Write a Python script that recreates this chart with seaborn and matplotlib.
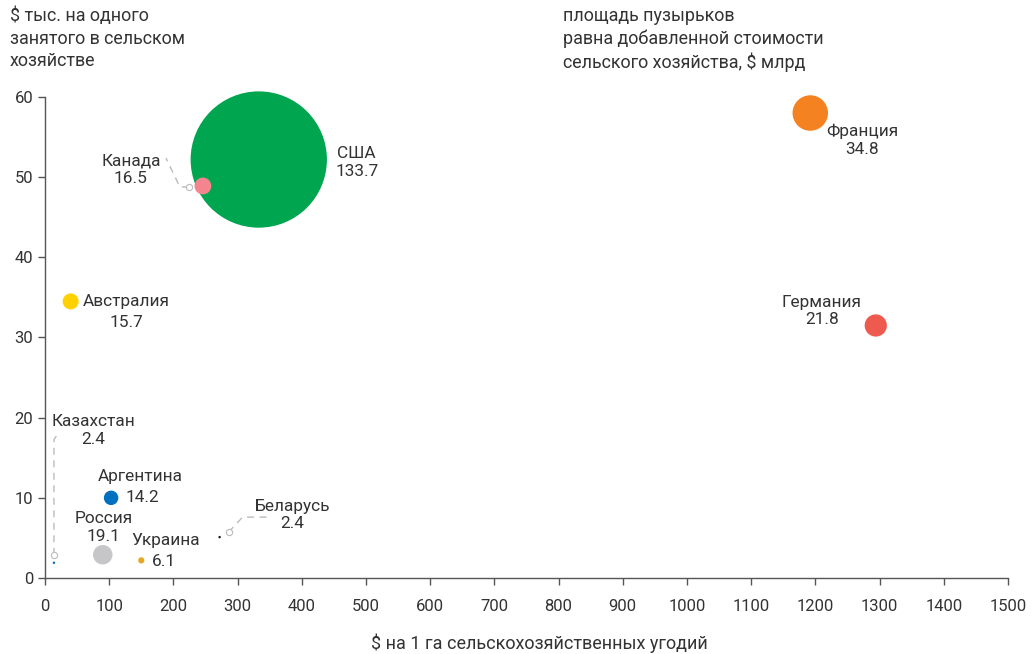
import matplotlib
matplotlib.use("Agg")
import matplotlib.pyplot as plt
from matplotlib.transforms import IdentityTransform
import seaborn as sns
import pandas as pd

countries = ["США", "Канада", "Франция", "Германия", "Австралия",
             "Аргентина", "Россия", "Украина", "Казахстан", "Беларусь"]
per_hectare = [333, 246, 1192, 1294, 40, 103, 90, 150, 14, 272]
per_worker = [52.2, 48.9, 58.0, 31.5, 34.5, 10.0, 2.9, 2.2, 1.9, 5.1]
value_added = [133.7, 16.5, 34.8, 21.8, 15.7, 14.2, 19.1, 6.1, 2.4, 2.4]
colors = ["#00A54F", "#F4858E", "#F58220", "#EF5A4F", "#FFD100",
          "#0070C0", "#C6C6C8", "#E5A823", "#0070C0", "#1A1A1A"]

x_ticks = list(range(0, 1501, 100))
y_ticks = list(range(0, 61, 10))

df = pd.DataFrame({"country": countries, "x": per_hectare,
                   "y": per_worker, "v": value_added})

sns.set_style("white")
plt.rcParams["font.family"] = ["Roboto", "DejaVu Sans"]
TXT = "#333333"
LFS = 12.4

fig = plt.figure(figsize=(10.36, 6.54), dpi=100)
ax = fig.add_axes([0.0434, 0.1162, 0.9296, 0.7355])

# bubble diameter proportional to value (as in source)
k = 0.734
sizes = {v: (k * v) ** 2 for v in value_added}
sns.scatterplot(data=df, x="x", y="y", hue="country",
                palette=dict(zip(countries, colors)), size="v", sizes=sizes,
                linewidth=0, alpha=1, legend=False, ax=ax, clip_on=False,
                zorder=3)
for coll in ax.collections:
    coll.set_clip_on(False)

ax.set_xlim(0, 1500)
ax.set_ylim(0, 60)
ax.set_xticks(x_ticks)
ax.set_yticks(y_ticks)
ax.tick_params(axis="both", colors="#555555", labelcolor=TXT, labelsize=12,
               length=5, width=1, direction="out", bottom=True, left=True)
ax.tick_params(axis="x", pad=10)
for s in ["top", "right"]:
    ax.spines[s].set_visible(False)
for s in ["left", "bottom"]:
    ax.spines[s].set_color("#555555")
    ax.spines[s].set_linewidth(1)
ax.set_xlabel("$ на 1 га сельскохозяйственных угодий", fontsize=13,
              color=TXT, labelpad=14)
ax.xaxis.set_label_coords((539 - 45) / 963, -0.115)
ax.set_ylabel("")

fig.text(10 / 1036, 1 - 7 / 654,
         "$ тыс. на одного\nзанятого в сельском\nхозяйстве",
         ha="left", va="top", fontsize=12.9, color=TXT, linespacing=1.29)
fig.text(563 / 1036, 1 - 7 / 654,
         "площадь пузырьков\nравна добавленной стоимости\nсельского хозяйства, $ млрд",
         ha="left", va="top", fontsize=12.9, color=TXT, linespacing=1.29)

pos = {c: (xx, yy) for c, xx, yy in zip(countries, per_hectare, per_worker)}
val = dict(zip(countries, value_added))


def label(c, text, dx, dy, ha="center"):
    ax.annotate(text, xy=pos[c], xytext=(dx, dy), textcoords="offset pixels",
                ha=ha, va="center", fontsize=LFS, color=TXT,
                linespacing=1.22, annotation_clip=False)


label("США", f"США\n{val['США']}", 98, -3)
label("Канада", f"Канада\n{val['Канада']}", -72, 16.5)
label("Франция", f"Франция\n{val['Франция']}", 52, -27.5)
label("Германия", f"Германия\n{val['Германия']}", -54, 14.5)
label("Австралия", "Австралия", 56, 0)
label("Австралия", f"{val['Австралия']}", 56, -21)
label("Аргентина", "Аргентина", 29, 21)
label("Аргентина", f"{val['Аргентина']}", 14, 0, ha="left")
label("Россия", f"Россия\n{val['Россия']}", 1, 27.5)
label("Украина", "Украина", 24, 20)
label("Украина", f"{val['Украина']}", 11, -1, ha="left")
label("Казахстан", f"Казахстан\n{val['Казахстан']}", 39, 132.5)
label("Беларусь", f"Беларусь\n{val['Беларусь']}", 73, 22)

fig.canvas.draw()


def leader(c, offsets, circ):
    px, py = ax.transData.transform(pos[c])
    xs = [px + o[0] for o in offsets]
    ys = [py + o[1] for o in offsets]
    ax.plot(xs, ys, transform=IdentityTransform(), color="#BBBBBB",
            lw=1, ls=(0, (5, 4)), clip_on=False, zorder=2)
    ax.plot([px + circ[0]], [py + circ[1]], transform=IdentityTransform(),
            marker="o", ms=4.5, mfc="white", mec="#BBBBBB", mew=0.8,
            clip_on=False, zorder=4)


leader("Казахстан", [(0, 8), (0, 123), (5, 131)], (0, 8))
leader("Беларусь", [(9, 5), (23, 20), (47, 20)], (9, 5))
leader("Канада", [(-14, -1), (-23, -1), (-37, 28)], (-14, -1))

fig.savefig("out.png", dpi=100)
